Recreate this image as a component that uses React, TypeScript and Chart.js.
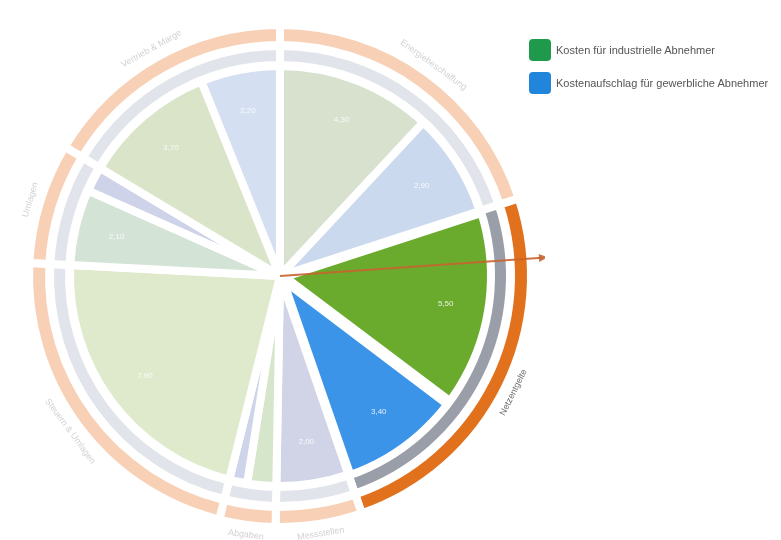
import React, { useEffect, useRef } from "react";
import { Chart, registerables } from "chart.js";

Chart.register(...registerables);

// Cost components (clockwise from 12 o'clock), ct/kWh
const sliceNames = [
  "Strombeschaffung",
  "Vertrieb",
  "Kosten für industrielle Abnehmer",
  "Kostenaufschlag für gewerbliche Abnehmer",
  "Messstellenbetrieb",
  "Konzessionsabgabe",
  "Offshore-Umlage",
  "Stromsteuer und Mehrwertsteuer",
  "KWKG-Umlage",
  "§19-Umlage",
  "Marge",
  "Sonstiges",
];
const sliceValues = [4.3, 2.9, 5.5, 3.4, 2.0, 0.8, 0.5, 7.9, 2.1, 0.7, 3.7, 2.2];
const sliceGroup = [0, 0, 1, 1, 2, 3, 3, 4, 5, 5, 6, 6];
const sliceColors = [
  "#d7e1cd",
  "#cad9ee",
  "#6aaa2c",
  "#3b94e8",
  "#d1d4e7",
  "#d6e6ca",
  "#ced4ea",
  "#dfeacd",
  "#d3e3d6",
  "#cfd3e9",
  "#d9e4c9",
  "#d4e0f2",
];
const sliceOffsets = [0, 0, 20, 20, 0, 0, 0, 0, 0, 0, 0, 0];

// Outer grouping rings
const groupNames = [
  "Energiebeschaffung",
  "Netzentgelte",
  "Messstellen",
  "Abgaben",
  "Steuern & Umlagen",
  "Umlagen",
  "Vertrieb & Marge",
];
const groupHighlight = [false, true, false, false, false, false, false];

// Legend entries
const legendLabels = ["Kosten für industrielle Abnehmer", "Kostenaufschlag für gewerbliche Abnehmer"];
const legendColors = ["#1f9a4c", "#2185dc"];

// Direction pointer (degrees clockwise from 12 o'clock, length relative to outer ring)
const arrowAngleDeg = 86;
const arrowLengthFactor = 1.07;

const groupValues = groupNames.map((_, g) =>
  sliceValues.reduce((sum, v, i) => (sliceGroup[i] === g ? sum + v : sum), 0)
);

const fmt = (v: number) => v.toFixed(2).replace(".", ",");
const FONT = '"Liberation Sans", Arial, sans-serif';

const decorations = {
  id: "decorations",
  afterDatasetsDraw(chart: any) {
    const ctx: CanvasRenderingContext2D = chart.ctx;
    const pieMeta = chart.getDatasetMeta(4);
    const ringMeta = chart.getDatasetMeta(0);

    ctx.save();
    // values inside the slices
    ctx.font = `8px ${FONT}`;
    ctx.textAlign = "center";
    ctx.textBaseline = "middle";
    pieMeta.data.forEach((arc: any, i: number) => {
      const p = arc.getProps(["x", "y", "startAngle", "endAngle", "outerRadius"], true);
      const mid = (p.startAngle + p.endAngle) / 2;
      const r = p.outerRadius * 0.8;
      ctx.fillStyle = "rgba(255,255,255,0.85)";
      if (sliceValues[i] >= 1.5) {
        ctx.fillText(fmt(sliceValues[i]), p.x + Math.cos(mid) * r, p.y + Math.sin(mid) * r);
      }
    });

    // group names along the outer ring
    ctx.font = `9px ${FONT}`;
    ringMeta.data.forEach((arc: any, i: number) => {
      const p = arc.getProps(["x", "y", "startAngle", "endAngle", "outerRadius"], true);
      const mid = (p.startAngle + p.endAngle) / 2;
      const theta = mid + Math.PI / 2;
      const r = p.outerRadius + 10;
      const rot = theta > Math.PI / 2 && theta < (3 * Math.PI) / 2 ? theta - Math.PI : theta;
      ctx.save();
      ctx.translate(p.x + Math.cos(mid) * r, p.y + Math.sin(mid) * r);
      ctx.rotate(rot);
      ctx.fillStyle = groupHighlight[i] ? "#6f6f73" : "#d2d2d6";
      ctx.fillText(groupNames[i], 0, 0);
      ctx.restore();
    });

    // pointer arrow from the centre
    const first = ringMeta.data[0].getProps(["x", "y", "outerRadius"], true);
    const a = (arrowAngleDeg * Math.PI) / 180 - Math.PI / 2;
    const len = first.outerRadius * arrowLengthFactor;
    const ex = first.x + Math.cos(a) * len;
    const ey = first.y + Math.sin(a) * len;
    ctx.strokeStyle = "rgba(200,100,45,0.9)";
    ctx.fillStyle = "rgba(200,100,45,0.9)";
    ctx.lineWidth = 2;
    ctx.beginPath();
    ctx.moveTo(first.x, first.y);
    ctx.lineTo(ex - Math.cos(a) * 6, ey - Math.sin(a) * 6);
    ctx.stroke();
    ctx.beginPath();
    ctx.moveTo(ex, ey);
    ctx.lineTo(ex - Math.cos(a) * 9 + Math.sin(a) * 4, ey - Math.sin(a) * 9 - Math.cos(a) * 4);
    ctx.lineTo(ex - Math.cos(a) * 9 - Math.sin(a) * 4, ey - Math.sin(a) * 9 + Math.cos(a) * 4);
    ctx.closePath();
    ctx.fill();
    ctx.restore();
  },
};

export default function App() {
  const canvasRef = useRef<HTMLCanvasElement | null>(null);

  useEffect(() => {
    if (!canvasRef.current) return;
    const common = { borderColor: "#ffffff", borderWidth: 8 };
    const spacer = { data: [1], backgroundColor: "rgba(0,0,0,0)", borderWidth: 0, weight: 1 };
    const chart = new Chart(canvasRef.current, {
      type: "pie",
      data: {
        labels: sliceNames,
        datasets: [
          {
            ...common,
            data: groupValues,
            backgroundColor: groupHighlight.map((h) => (h ? "#e2711d" : "#f7d0b6")),
            weight: 20,
          },
          { ...spacer },
          {
            ...common,
            data: groupValues,
            backgroundColor: groupHighlight.map((h) => (h ? "#9a9ea8" : "#e1e4eb")),
            weight: 19,
          },
          { ...spacer },
          {
            ...common,
            data: sliceValues,
            backgroundColor: sliceColors,
            offset: sliceOffsets,
            weight: 210,
          },
        ] as any,
      },
      options: {
        responsive: false,
        animation: false,
        events: [],
        radius: 251,
        layout: { padding: 0 },
        plugins: { legend: { display: false }, tooltip: { enabled: false } },
      } as any,
      plugins: [decorations],
    });
    return () => chart.destroy();
  }, []);

  return (
    <div
      style={{
        position: "fixed",
        left: 0,
        top: 0,
        width: 781,
        height: 540,
        overflow: "hidden",
        background: "#ffffff",
      }}
    >
      <canvas
        ref={canvasRef}
        width={530}
        height={530}
        style={{ position: "absolute", left: 15, top: 11, width: 530, height: 530 }}
      />
      <div style={{ position: "absolute", left: 529, top: 39, fontFamily: FONT }}>
        {legendLabels.map((label, i) => (
          <div key={label} style={{ display: "flex", alignItems: "center", height: 22, marginBottom: 11 }}>
            <div
              style={{
                width: 22,
                height: 22,
                borderRadius: 4,
                background: legendColors[i],
                marginRight: 5,
                flex: "none",
              }}
            />
            <span style={{ fontSize: 11, color: "#555", whiteSpace: "nowrap" }}>{label}</span>
          </div>
        ))}
      </div>
    </div>
  );
}
